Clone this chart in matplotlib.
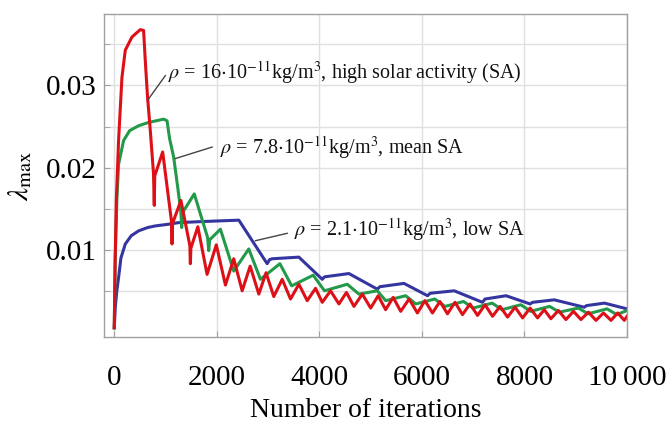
import matplotlib
matplotlib.use("Agg")
import matplotlib.pyplot as plt
from matplotlib.ticker import FixedLocator, FuncFormatter

plt.rcParams['font.family'] = ['Liberation Serif', 'DejaVu Serif']
plt.rcParams['mathtext.fontset'] = 'stix'

# lambda_max estimates vs. iteration count, one series per atmospheric density
red_iter = [0, 15, 40, 84, 150, 215, 345, 508, 572, 605, 650, 703, 765, 780, 790,
            944, 1115, 1127, 1137, 1300, 1474, 1484, 1494, 1630, 1810, 1990,
            2168, 2330, 2494, 2650, 2819, 2960, 3111, 3275, 3437, 3600, 3763, 3925,
            4056, 4218, 4381, 4528, 4674, 4837, 5000, 5146, 5292, 5439, 5586, 5749,
            5912, 6058, 6205, 6351, 6498, 6644, 6791, 6937, 7084, 7230, 7377, 7523,
            7670, 7816, 7963, 8109, 8255, 8385, 8515, 8661, 8808, 8955, 9101, 9247,
            9394, 9540, 9687, 9817, 9947, 10000]
red_lam = [0.0005, 0.008, 0.016, 0.0233, 0.0310, 0.0343, 0.0359, 0.0368, 0.0367, 0.0330,
           0.0285, 0.0245, 0.0193, 0.0154, 0.0190,
           0.0219, 0.0135, 0.0107, 0.0132, 0.0160, 0.0105, 0.0083, 0.0102, 0.0128, 0.0070, 0.0106,
           0.0057, 0.0089, 0.0050, 0.0080, 0.0046, 0.0072, 0.0043, 0.0064, 0.0040, 0.0058, 0.0038, 0.0053,
           0.0036, 0.0050, 0.0034, 0.0048, 0.0031, 0.0046, 0.0029, 0.0044, 0.0027, 0.0042, 0.0025, 0.0040,
           0.0023, 0.0038, 0.0023, 0.0037, 0.0022, 0.0036, 0.0021, 0.0034, 0.0020, 0.0033, 0.0019, 0.0031,
           0.0018, 0.0030, 0.0017, 0.0029, 0.0017, 0.0027, 0.0016, 0.0026, 0.0015, 0.0025, 0.0015, 0.0024,
           0.0014, 0.0023, 0.0014, 0.0023, 0.0014, 0.0019]

green_iter = [0, 20, 50, 84, 182, 300, 475, 670, 963, 1029, 1080, 1158, 1250, 1300, 1315, 1330,
              1560, 1820, 1842, 1860, 2070, 2330, 2623, 2851, 3230, 3460, 3880, 4100, 4544,
              4771, 5130, 5293, 5683, 5879, 6250, 6450, 6810, 7000, 7370, 7560, 7930, 8120,
              8490, 8680, 9050, 9240, 9610, 9800, 10000]
green_lam = [0.0005, 0.009, 0.016, 0.0204, 0.0233, 0.0245, 0.0251, 0.0255, 0.0259, 0.0257, 0.0235,
             0.0213, 0.0170, 0.0145, 0.0127, 0.0145,
             0.0168, 0.0115, 0.0099, 0.0112, 0.0125, 0.0074, 0.0101, 0.0064, 0.0083, 0.0056, 0.0069,
             0.0050, 0.0058, 0.0046, 0.0050, 0.0038, 0.0044, 0.0034, 0.0040, 0.0031, 0.0037, 0.0029,
             0.0035, 0.0027, 0.0033, 0.0025, 0.0031, 0.0024, 0.0029, 0.0022, 0.0028, 0.0021, 0.0026]

blue_iter = [0, 20, 50, 84, 130, 215, 330, 475, 650, 800, 1050, 1256, 1600, 2000, 2430,
             2982, 3030, 3080, 3600, 4056, 4100, 4576, 5130, 5180, 5650, 6110, 6160, 6630,
             7180, 7230, 7640, 8110, 8160, 8580, 9166, 9210, 9560, 10000]
blue_lam = [0.0005, 0.003, 0.005, 0.0066, 0.0090, 0.0107, 0.0117, 0.0123, 0.0127, 0.0129, 0.0131,
            0.0133, 0.0134, 0.0135, 0.0136, 0.0083, 0.0088, 0.0089, 0.0091, 0.0064, 0.0067, 0.0071,
            0.0052, 0.0055, 0.0059, 0.0044, 0.0047, 0.0050, 0.0036, 0.0040, 0.0044, 0.0034, 0.0036,
            0.0039, 0.0030, 0.0032, 0.0035, 0.0028]

labels = [r'$\rho$ = 16$\cdot$10$^{-11}$kg/m$^3$, high solar activity (SA)',
          r'$\rho$ = 7.8$\cdot$10$^{-11}$kg/m$^3$, mean SA',
          r'$\rho$ = 2.1$\cdot$10$^{-11}$kg/m$^3$, low SA']
# (text anchor, point on curve)
label_pos = [((1055, 0.0316), (650, 0.0282)),
             ((2070, 0.0224), (1191, 0.0211)),
             ((3496, 0.0124), (2754, 0.0111))]
leader_start = [(996, 0.0312), (1908, 0.0225), (3373, 0.0120)]

fig = plt.figure(figsize=(6.68, 4.21), dpi=100)
ax = fig.add_axes([0.1557, 0.2, 0.783, 0.7667])

ax.plot(blue_iter, blue_lam, color='#3535a0', lw=2.2)
ax.plot(green_iter, green_lam, color='#23994a', lw=2.2)
ax.plot(red_iter, red_lam, color='#dd1018', lw=2.2)

for txt, (anchor, tip), start in zip(labels, label_pos, leader_start):
    ax.plot([start[0], tip[0]], [start[1], tip[1]], color='#444444', lw=1)
    ax.text(anchor[0], anchor[1], txt, fontsize=14.5, va='center', ha='left', color='#111111')

ax.set_xlim(-200, 10000)
ax.set_ylim(-0.0006, 0.0387)
ax.xaxis.set_major_locator(FixedLocator([0, 2000, 4000, 6000, 8000, 10000]))
ax.xaxis.set_major_formatter(FuncFormatter(
    lambda v, p: '10\u2009000' if v >= 10000 else f'{int(v)}'))
ax.yaxis.set_major_locator(FixedLocator([0.01, 0.02, 0.03]))
ax.yaxis.set_minor_locator(FixedLocator([0.005, 0.015, 0.025, 0.035]))
ax.yaxis.set_major_formatter(FuncFormatter(lambda v, p: f'{v:.2f}'))

ax.grid(True, which='both', axis='y', color='#e0e0e0', lw=1)
ax.grid(True, which='major', axis='x', color='#e0e0e0', lw=1)
ax.set_axisbelow(True)
for s in ax.spines.values():
    s.set_color('#a0a0a0')
    s.set_linewidth(1)
ax.tick_params(which='both', direction='in', color='#a0a0a0', labelsize=21, length=4)
ax.tick_params(axis='x', pad=20)
ax.tick_params(axis='y', pad=5)

ax.set_xlabel('Number of iterations', fontsize=20, labelpad=5)
ax.set_ylabel(r'$\lambda_{\mathrm{max}}$', fontsize=21, labelpad=9)

fig.savefig('out.png', dpi=100)
